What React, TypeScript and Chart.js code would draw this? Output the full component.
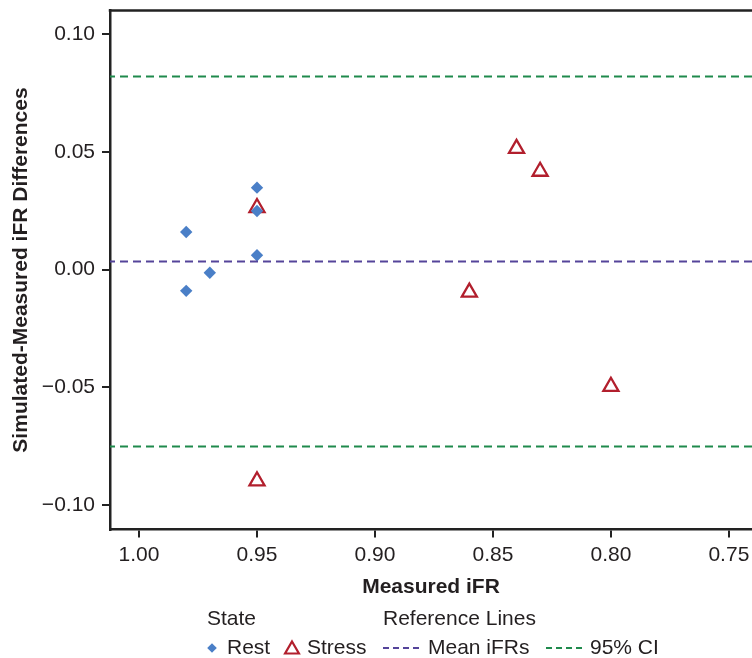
import { useEffect, useRef } from "react";
import { Chart, registerables } from "chart.js";

Chart.register(...registerables);

// ---- Data ----
const restX = [0.98, 0.98, 0.97, 0.95, 0.95, 0.95];
const restY = [0.016, -0.009, -0.0013, 0.0348, 0.0249, 0.0061];
const stressX = [0.95, 0.84, 0.83, 0.86, 0.8, 0.95];
const stressY = [0.0263, 0.0514, 0.0417, -0.0096, -0.0496, -0.0897];
const meanDiff = 0.0035;
const ciUpper = 0.082;
const ciLower = -0.0751;
const xTicks = [1.0, 0.95, 0.9, 0.85, 0.8, 0.75];
const yTicks = [0.1, 0.05, 0.0, -0.05, -0.1];
const xLow = 0.7402;
const xHigh = 1.0123;
const yLow = -0.1103;
const yHigh = 0.11;
const xTitle = "Measured iFR";
const yTitle = "Simulated-Measured iFR Differences";
const stateTitle = "State";
const refTitle = "Reference Lines";
const seriesLabels = ["Rest", "Stress", "Mean iFRs", "95% CI"];

const FONT = "'Liberation Sans', Arial, Helvetica, sans-serif";
const FS = 21;
const TXT = "#231f20";
const BLUE = "#4a7fc7";
const RED = "#b21f2d";
const PURPLE = "#55449a";
const GREEN = "#1f8a4c";

const fmt = (v: number) => {
  const s = Math.abs(v) < 1e-9 ? "0.00" : v.toFixed(2);
  return s.replace("-", "\u2212");
};

const drawTriangle = (ctx: CanvasRenderingContext2D, x: number, y: number, r: number) => {
  ctx.beginPath();
  for (let i = 0; i < 3; i++) {
    const a = (i * 2 * Math.PI) / 3;
    const px = x + Math.sin(a) * r;
    const py = y - Math.cos(a) * r;
    if (i === 0) ctx.moveTo(px, py);
    else ctx.lineTo(px, py);
  }
  ctx.closePath();
};

const framePlugin = {
  id: "frameAndLegend",
  afterDraw(chart: any) {
    const { ctx, chartArea } = chart;
    ctx.save();
    // top border
    ctx.strokeStyle = "#222";
    ctx.lineWidth = 2.5;
    ctx.beginPath();
    ctx.moveTo(chartArea.left - 1.25, chartArea.top);
    ctx.lineTo(chartArea.right, chartArea.top);
    ctx.stroke();

    // legend
    ctx.font = `${FS}px ${FONT}`;
    ctx.fillStyle = TXT;
    ctx.textBaseline = "middle";
    ctx.textAlign = "left";
    ctx.fillText(stateTitle, 207, 619);
    ctx.fillText(refTitle, 383, 619);

    const rowY = 648;
    // Rest diamond
    ctx.fillStyle = BLUE;
    ctx.beginPath();
    const d = 4.8;
    ctx.moveTo(212, rowY - d);
    ctx.lineTo(212 + d, rowY);
    ctx.lineTo(212, rowY + d);
    ctx.lineTo(212 - d, rowY);
    ctx.closePath();
    ctx.fill();
    ctx.fillStyle = TXT;
    ctx.fillText(seriesLabels[0], 227, rowY);

    // Stress triangle
    ctx.strokeStyle = RED;
    ctx.lineWidth = 2.2;
    drawTriangle(ctx, 292, rowY + 1.5, 8);
    ctx.stroke();
    ctx.fillStyle = TXT;
    ctx.fillText(seriesLabels[1], 307, rowY);

    // Mean line
    ctx.lineWidth = 2;
    ctx.setLineDash([6, 4]);
    ctx.strokeStyle = PURPLE;
    ctx.beginPath();
    ctx.moveTo(383, rowY);
    ctx.lineTo(420, rowY);
    ctx.stroke();
    ctx.fillText(seriesLabels[2], 428, rowY);

    ctx.strokeStyle = GREEN;
    ctx.beginPath();
    ctx.moveTo(546, rowY);
    ctx.lineTo(583, rowY);
    ctx.stroke();
    ctx.setLineDash([]);
    ctx.fillText(seriesLabels[3], 590, rowY);
    ctx.restore();
  },
};

const zeroPad = (s: any) => {
  s.paddingTop = 0;
  s.paddingBottom = 0;
  s.paddingLeft = 0;
  s.paddingRight = 0;
};

export default function App() {
  const ref = useRef<HTMLCanvasElement>(null);

  useEffect(() => {
    document.body.style.margin = "0";
    Chart.defaults.font.family = FONT;
    const canvas = ref.current;
    if (!canvas) return;

    const hLine = (y: number) => [
      { x: xLow, y },
      { x: xHigh, y },
    ];

    const chart = new Chart(canvas, {
      type: "scatter",
      data: {
        datasets: [
          {
            label: seriesLabels[3] + " upper",
            data: hLine(ciUpper),
            showLine: true,
            borderColor: GREEN,
            borderWidth: 2,
            borderDash: [8, 5],
            pointRadius: 0,
          },
          {
            label: seriesLabels[3] + " lower",
            data: hLine(ciLower),
            showLine: true,
            borderColor: GREEN,
            borderWidth: 2,
            borderDash: [8, 5],
            pointRadius: 0,
          },
          {
            label: seriesLabels[2],
            data: hLine(meanDiff),
            showLine: true,
            borderColor: PURPLE,
            borderWidth: 2,
            borderDash: [8, 5],
            pointRadius: 0,
          },
          {
            label: seriesLabels[0],
            data: restX.map((x, i) => ({ x, y: restY[i] })),
            pointStyle: "rectRot",
            pointRadius: 6.2,
            backgroundColor: BLUE,
            borderColor: BLUE,
            borderWidth: 0,
          },
          {
            label: seriesLabels[1],
            data: stressX.map((x, i) => ({ x, y: stressY[i] })),
            pointStyle: "triangle",
            pointRadius: 8.7,
            backgroundColor: "rgba(0,0,0,0)",
            borderColor: RED,
            borderWidth: 2.3,
          },
        ],
      },
      options: {
        responsive: false,
        animation: false,
        devicePixelRatio: 1,
        layout: { autoPadding: false, padding: { top: 10.5, right: 0, left: 0, bottom: 0 } },
        plugins: {
          legend: { display: false },
          tooltip: { enabled: false },
        },
        scales: {
          x: {
            type: "linear",
            reverse: true,
            min: xLow,
            max: xHigh,
            afterFit: (s: any) => {
              s.height = 128.5;
              zeroPad(s);
            },
            afterBuildTicks: (s: any) => {
              s.ticks = xTicks.map((v) => ({ value: v }));
            },
            border: { display: true, color: "#222", width: 2.5 },
            grid: {
              drawOnChartArea: false,
              drawTicks: true,
              tickLength: 8,
              color: "#222",
              lineWidth: 2,
            },
            ticks: {
              padding: 5,
              color: TXT,
              font: { size: FS, family: FONT },
              maxRotation: 0,
              autoSkip: false,
              callback: (v: any) => fmt(Number(v)),
            },
            title: {
              display: true,
              text: xTitle,
              color: TXT,
              font: { size: FS, weight: "bold", family: FONT },
              padding: { top: 0, bottom: 58 },
            },
          },
          y: {
            type: "linear",
            min: yLow,
            max: yHigh,
            afterFit: (s: any) => {
              s.width = 110;
              zeroPad(s);
            },
            afterBuildTicks: (s: any) => {
              s.ticks = yTicks.map((v) => ({ value: v }));
            },
            border: { display: true, color: "#222", width: 2.5 },
            grid: {
              drawOnChartArea: false,
              drawTicks: true,
              tickLength: 8,
              color: "#222",
              lineWidth: 2,
            },
            ticks: {
              padding: 7,
              color: TXT,
              font: { size: FS, family: FONT },
              autoSkip: false,
              callback: (v: any) => fmt(Number(v)),
            },
            title: {
              display: true,
              text: yTitle,
              color: TXT,
              font: { size: FS, weight: "bold", family: FONT },
              padding: { top: 9, bottom: 0 },
            },
          },
        },
      },
      plugins: [framePlugin],
    } as any);

    return () => chart.destroy();
  }, []);

  return (
    <div style={{ width: 752, height: 658 }}>
      <canvas ref={ref} width={752} height={658} style={{ display: "block" }} />
    </div>
  );
}
